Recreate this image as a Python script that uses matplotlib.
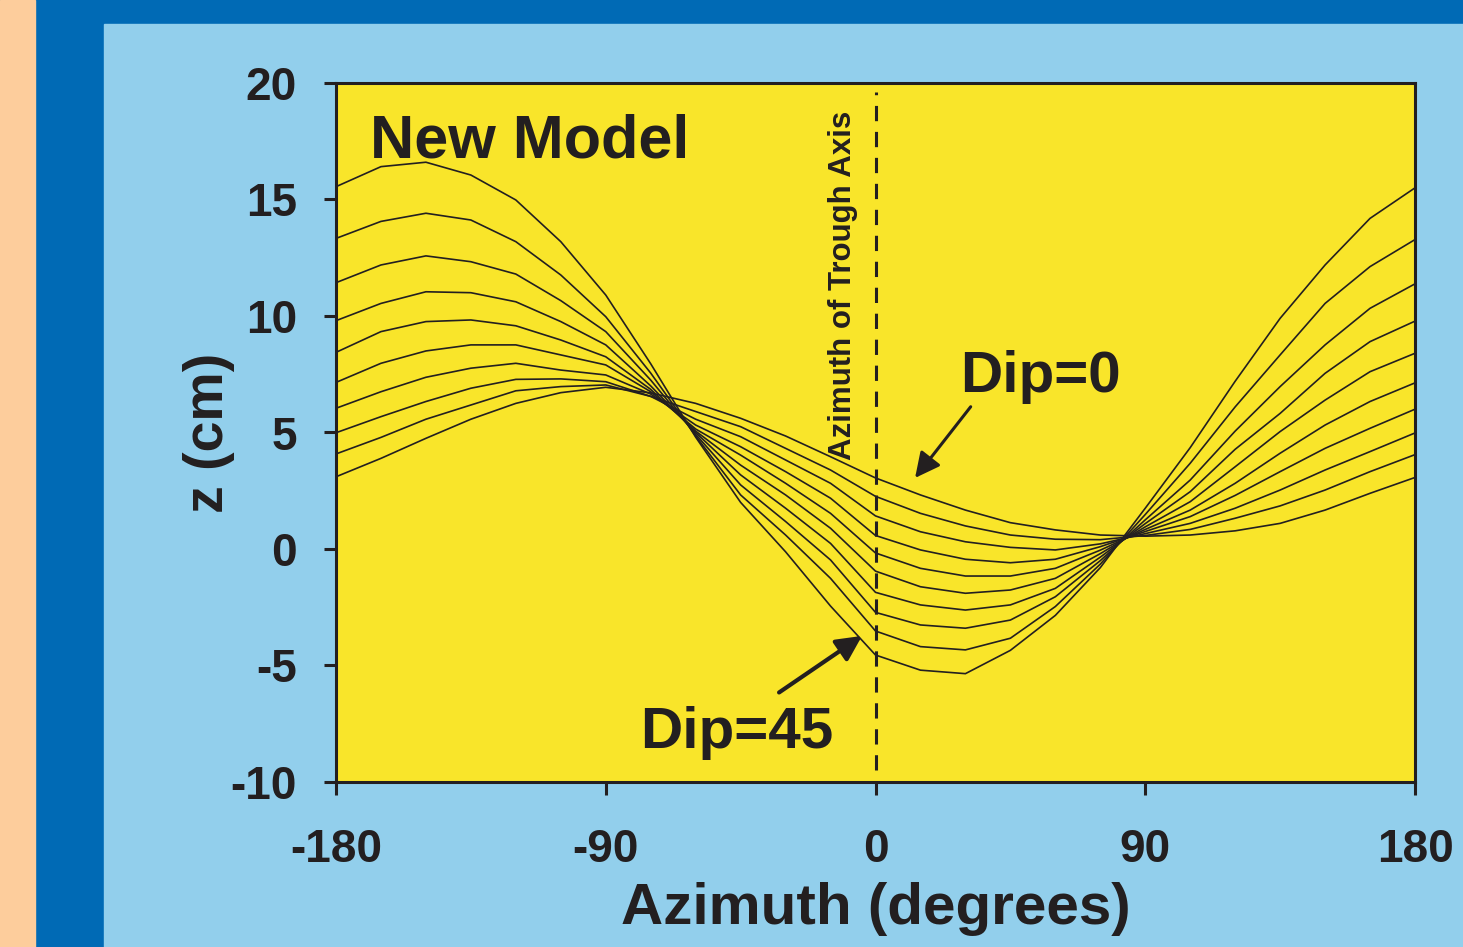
import matplotlib
matplotlib.use("Agg")
import matplotlib.pyplot as plt
from matplotlib.patches import Rectangle

# Colours
peach = '#FDCD9C'
dark_blue = '#006AB5'
light_blue = '#92CFEC'
yellow = '#F9E52A'
ink = '#231F20'

# Data (azimuth in degrees, z in cm)
azimuth = [-180, -165, -150, -135, -120, -105, -90, -75, -60, -45, -30, -15, 0,
           15, 30, 45, 60, 75, 90, 105, 120, 135, 150, 165, 180]

dip_00 = [3.1, 3.89, 4.75, 5.57, 6.25, 6.71, 6.94, 6.7, 6.25, 5.61, 4.85, 3.96, 3.05,
          2.32, 1.67, 1.13, 0.82, 0.6, 0.55, 0.6, 0.78, 1.1, 1.67, 2.39, 3.07]
dip_05 = [4.08, 4.79, 5.57, 6.18, 6.79, 6.97, 7.04, 6.55, 5.9, 5.25, 4.32, 3.39, 2.26,
          1.53, 0.99, 0.6, 0.42, 0.4, 0.58, 0.84, 1.32, 1.85, 2.53, 3.32, 4.05]
dip_10 = [4.99, 5.68, 6.33, 6.9, 7.28, 7.3, 7.18, 6.55, 5.57, 4.82, 3.82, 2.82, 1.42,
          0.74, 0.31, 0.07, -0.04, 0.22, 0.66, 1.1, 1.75, 2.53, 3.39, 4.18, 4.98]
dip_15 = [6.04, 6.75, 7.37, 7.76, 7.97, 7.68, 7.47, 6.65, 5.32, 4.39, 3.32, 2.18, 0.58,
          -0.04, -0.44, -0.59, -0.44, 0.1, 0.75, 1.39, 2.3, 3.32, 4.32, 5.18, 6.0]
dip_20 = [7.15, 7.97, 8.5, 8.76, 8.76, 8.33, 7.9, 6.75, 5.15, 4.03, 2.82, 1.53, -0.17,
          -0.83, -1.16, -1.16, -0.83, -0.05, 0.84, 1.67, 2.82, 4.11, 5.32, 6.33, 7.13]
dip_25 = [8.44, 9.33, 9.76, 9.83, 9.58, 8.97, 8.25, 6.85, 5.06, 3.6, 2.32, 0.89, -0.95,
          -1.62, -1.9, -1.76, -1.26, -0.2, 0.95, 2.03, 3.53, 5.04, 6.39, 7.61, 8.4]
dip_30 = [9.8, 10.54, 11.04, 11.0, 10.61, 9.76, 8.76, 7.0, 5.0, 3.18, 1.75, 0.24, -1.86,
          -2.4, -2.62, -2.4, -1.69, -0.35, 1.09, 2.46, 4.28, 5.82, 7.54, 8.9, 9.78]
dip_35 = [11.43, 12.19, 12.58, 12.33, 11.8, 10.66, 9.33, 7.25, 4.92, 2.75, 1.18, -0.47, -2.72,
          -3.26, -3.4, -3.05, -2.05, -0.5, 1.25, 2.96, 5.06, 6.97, 8.76, 10.33, 11.38]
dip_40 = [13.33, 14.06, 14.41, 14.12, 13.19, 11.76, 9.97, 7.55, 4.85, 2.32, 0.6, -1.26, -3.52,
          -4.19, -4.33, -3.83, -2.47, -0.65, 1.48, 3.68, 6.1, 8.33, 10.54, 12.12, 13.28]
dip_45 = [15.55, 16.41, 16.6, 16.05, 14.98, 13.19, 10.9, 7.95, 4.8, 2.0, -0.12, -2.45, -4.55,
          -5.2, -5.35, -4.35, -2.85, -0.8, 1.75, 4.35, 7.2, 9.9, 12.19, 14.19, 15.5]

curves = [dip_00, dip_05, dip_10, dip_15, dip_20, dip_25, dip_30, dip_35, dip_40, dip_45]

x_ticks = [-180, -90, 0, 90, 180]
y_ticks = [-10, -5, 0, 5, 10, 15, 20]
trough_azimuth = 0

plt.rcParams['font.family'] = ['Liberation Sans', 'DejaVu Sans']

fig = plt.figure(figsize=(14.63, 9.47), dpi=100)
fig.patch.set_facecolor(light_blue)

# Poster frame around the panel
fig.patches.append(Rectangle((0, 0), 1, 1, transform=fig.transFigure, color=dark_blue, zorder=-3))
fig.patches.append(Rectangle((0, 0), 35 / 1463, 1, transform=fig.transFigure, color=peach, zorder=-2))
fig.patches.append(Rectangle((104 / 1463, 0), 1, 1 - 24 / 947, transform=fig.transFigure,
                             color=light_blue, zorder=-2))

ax = fig.add_axes([336 / 1463, 1 - 782 / 947, 1079 / 1463, 699 / 947])
ax.set_facecolor(yellow)

for z in curves:
    ax.plot(azimuth, z, color=ink, linewidth=1.2, solid_joinstyle='round')

# Trough axis marker
ax.axvline(trough_azimuth, ymin=0.017, ymax=0.987, color=ink, linewidth=2.2, dashes=(5, 3.5))
ax.text(-11.0, 11.3, 'Azimuth of Trough Axis', rotation=90, ha='center', va='center',
        fontsize=22.5, fontweight='bold', color=ink)

# Annotations
ax.text(-168.7, 16.82, 'New Model', fontsize=44, fontweight='bold', color=ink, va='baseline')
ax.annotate('Dip=0', xy=(13.2, 3.05), xytext=(28.2, 6.74), fontsize=42, fontweight='bold',
            color=ink, va='baseline', ha='left',
            arrowprops=dict(arrowstyle='-|>', color=ink, lw=2.2, mutation_scale=38,
                            shrinkA=0, shrinkB=0, relpos=(0.08, 0.0)))
ax.annotate('Dip=45', xy=(-4.5, -3.73), xytext=(-78.6, -8.54), fontsize=42, fontweight='bold',
            color=ink, va='baseline', ha='left',
            arrowprops=dict(arrowstyle='-|>', color=ink, lw=3, mutation_scale=38,
                            shrinkA=0, shrinkB=0, relpos=(0.72, 1.25)))

ax.set_xlim(-180, 180)
ax.set_ylim(-10, 20)
ax.set_xticks(x_ticks)
ax.set_yticks(y_ticks)
ax.set_xticklabels([str(v) for v in x_ticks], fontsize=33, fontweight='bold', color=ink)
ax.set_yticklabels([str(v) for v in y_ticks], fontsize=33, fontweight='bold', color=ink)
ax.tick_params(axis='both', direction='out', length=9, width=2.2, color=ink)
ax.tick_params(axis='x', pad=24)
ax.tick_params(axis='y', pad=19)
for spine in ax.spines.values():
    spine.set_linewidth(2.2)
    spine.set_color(ink)

ax.set_xlabel('Azimuth (degrees)', fontsize=42, fontweight='bold', color=ink, labelpad=7)
ax.set_ylabel('z (cm)', fontsize=40, fontweight='bold', color=ink, labelpad=-3)

fig.savefig('out.png', dpi=100, facecolor=fig.get_facecolor())
